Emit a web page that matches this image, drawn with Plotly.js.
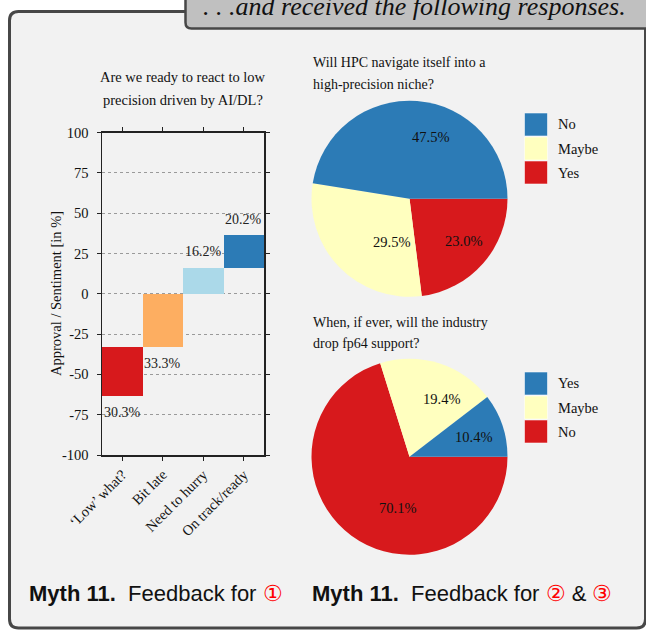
<!DOCTYPE html>
<html>
<head>
<meta charset="utf-8">
<script src="https://cdn.plot.ly/plotly-3.0.1.min.js"></script>
<style>html,body{margin:0;padding:0;background:#fff;}#chart{width:646px;height:630px;}</style>
</head>
<body>
<div id="chart"></div>
<script>
// ---- data ----
const barCategories = ["\u2018Low\u2019 what?", "Bit late", "Need to hurry", "On track/ready"];
const barShares = [30.3, 33.3, 16.2, 20.2];          // percent of responses
const barDirection = [-1, -1, 1, 1];                  // negative / positive sentiment
const barStart = [-33.3, 0, 0, 16.2];                 // where each floating bar starts
const barColors = ["#d7191c", "#fdae61", "#abd9e9", "#2c7bb6"];
const yTicks = [-100, -75, -50, -25, 0, 25, 50, 75, 100];

const pie1Labels = ["No", "Maybe", "Yes"];
const pie1Values = [47.5, 29.5, 23.0];
const pie2Labels = ["Yes", "Maybe", "No"];
const pie2Values = [10.4, 19.4, 70.1];
const pieColors = ["#2c7bb6", "#ffffbf", "#d7191c"];

const barTitle = ["Are we ready to react to low", "precision driven by AI/DL?"];
const pie1Title = ["Will HPC navigate itself into a", "high-precision niche?"];
const pie2Title = ["When, if ever, will the industry", "drop fp64 support?"];

// ---- layout helpers (positions / styles) ----
const W = 646, H = 630;
const px = x => x / W, py = y => 1 - y / H;
const SERIF = "Liberation Serif, Times New Roman, serif";
const SANS = "Liberation Sans, Arial, sans-serif";
const PIE_R = 98, PIE_CX = 409.5;
const PIE1_CY = 198.7, PIE2_CY = 456.7;
// percentage label placement inside each slice, relative to pie centre in units of radius
const pie1LabelOffsets = [[0.21, -0.63], [-0.18, 0.44], [0.55, 0.43]];
const pie2LabelOffsets = [[0.65, -0.20], [0.33, -0.59], [-0.12, 0.52]];

function roundRect(x0, y0, x1, y1, r) {
  const P = (x, y) => px(x).toFixed(5) + "," + py(y).toFixed(5);
  return "M" + P(x0 + r, y0) + " L" + P(x1 - r, y0) + " Q" + P(x1, y0) + " " + P(x1, y0 + r) +
    " L" + P(x1, y1 - r) + " Q" + P(x1, y1) + " " + P(x1 - r, y1) +
    " L" + P(x0 + r, y1) + " Q" + P(x0, y1) + " " + P(x0, y1 - r) +
    " L" + P(x0, y0 + r) + " Q" + P(x0, y0) + " " + P(x0 + r, y0) + " Z";
}

// ---- traces ----
const barEnds = barShares.map((v, i) => v * barDirection[i]);
const barTrace = {
  type: "bar",
  x: barCategories,
  y: barEnds,
  base: barStart,
  width: 1,
  marker: {color: barColors, line: {width: 0}},
  textposition: "none",
  hoverinfo: "skip",
  xaxis: "x", yaxis: "y",
  showlegend: false
};

// slices run counter-clockwise from 3 o'clock: draw them clockwise in reverse order
function pieTrace(labels, values, colors, cy) {
  return {
    type: "pie",
    labels: labels.slice().reverse(),
    values: values.slice().reverse(),
    sort: false,
    direction: "clockwise",
    rotation: 90,
    marker: {colors: colors.slice().reverse(), line: {width: 0}},
    textinfo: "none",
    domain: {x: [px(PIE_CX - PIE_R), px(PIE_CX + PIE_R)], y: [py(cy + PIE_R), py(cy - PIE_R)]},
    showlegend: false,
    hoverinfo: "skip"
  };
}
const pie1 = pieTrace(pie1Labels, pie1Values, pieColors, PIE1_CY);
const pie2 = pieTrace(pie2Labels, pie2Values, pieColors, PIE2_CY);

// ---- shapes & annotations ----
const shapes = [];
const annotations = [];
shapes.push({type: "path", xref: "paper", yref: "paper", layer: "below",
  path: roundRect(9.5, 11.5, 645.5, 628, 9), fillcolor: "#f2f2f2", line: {color: "#474747", width: 3}});
shapes.push({type: "path", xref: "paper", yref: "paper", layer: "below",
  path: roundRect(185.5, -12, 660, 28.5, 6), fillcolor: "#c0c0c0", line: {color: "#474747", width: 2.5}});

function addLegend(labels, colors, top) {
  labels.forEach((lab, i) => {
    const y0 = top + i * 24;
    shapes.push({type: "rect", xref: "paper", yref: "paper", layer: "above",
      x0: px(524.5), x1: px(547.5), y0: py(y0), y1: py(y0 + 23),
      fillcolor: colors[i], line: {color: "rgba(255,255,255,0.55)", width: 1}});
    annotations.push({xref: "paper", yref: "paper", x: px(556), y: py(y0 + 11.5),
      xanchor: "left", yanchor: "middle", showarrow: false, text: lab,
      font: {family: SERIF, size: 14.5, color: "#111"}});
  });
}
function addPieLabels(values, offsets, cy) {
  values.forEach((v, i) => {
    annotations.push({xref: "paper", yref: "paper",
      x: px(PIE_CX + offsets[i][0] * PIE_R), y: py(cy + offsets[i][1] * PIE_R),
      xanchor: "center", yanchor: "middle", showarrow: false, text: v.toFixed(1) + "%",
      font: {family: SERIF, size: 14.5, color: "#111"}});
  });
}

// bar value labels beyond each bar's end
barCategories.forEach((c, i) => {
  annotations.push({xref: "x", yref: "y", x: c, y: barStart[i] + barEnds[i],
    yshift: 16 * barDirection[i], xanchor: "center", yanchor: "middle", showarrow: false,
    text: barShares[i].toFixed(1) + "%", font: {family: SERIF, size: 14, color: "#222"}});
});

barTitle.forEach((t, i) => annotations.push({xref: "paper", yref: "paper", x: px(183), y: py(77 + i * 23),
  xanchor: "center", yanchor: "middle", showarrow: false, text: t, font: {family: SERIF, size: 14.5, color: "#111"}}));
pie1Title.forEach((t, i) => annotations.push({xref: "paper", yref: "paper", x: px(311), y: py(63 + i * 22),
  xanchor: "left", yanchor: "middle", showarrow: false, text: t, font: {family: SERIF, size: 14, color: "#111"}}));
pie2Title.forEach((t, i) => annotations.push({xref: "paper", yref: "paper", x: px(311), y: py(322 + i * 22),
  xanchor: "left", yanchor: "middle", showarrow: false, text: t, font: {family: SERIF, size: 14, color: "#111"}}));
annotations.push({xref: "paper", yref: "paper", x: px(56), y: py(294), textangle: -90,
  xanchor: "center", yanchor: "middle", showarrow: false, text: "Approval / Sentiment [in %]",
  font: {family: SERIF, size: 14.5, color: "#111"}});
annotations.push({xref: "paper", yref: "paper", x: px(628), y: py(6.5), xanchor: "right", yanchor: "middle",
  showarrow: false, text: "<i>. . .and received the following responses.</i>",
  font: {family: SERIF, size: 26, color: "#111"}});
annotations.push({xref: "paper", yref: "paper", x: px(27), y: py(593), xanchor: "left", yanchor: "middle",
  showarrow: false, text: "<b>Myth 11.</b>  Feedback for <span style=\"color:#ff0000\">\u2460</span>",
  font: {family: SANS, size: 22, color: "#111"}});
annotations.push({xref: "paper", yref: "paper", x: px(310), y: py(593), xanchor: "left", yanchor: "middle",
  showarrow: false, text: "<b>Myth 11.</b>  Feedback for <span style=\"color:#ff0000\">\u2461</span> & <span style=\"color:#ff0000\">\u2462</span>",
  font: {family: SANS, size: 22, color: "#111"}});

addLegend(pie1Labels, pieColors, 113);
addLegend(pie2Labels, pieColors, 372);
addPieLabels(pie1Values, pie1LabelOffsets, PIE1_CY);
addPieLabels(pie2Values, pie2LabelOffsets, PIE2_CY);

const layout = {
  width: W, height: H,
  margin: {l: 0, r: 0, t: 0, b: 0},
  paper_bgcolor: "#ffffff",
  plot_bgcolor: "rgba(0,0,0,0)",
  bargap: 0,
  showlegend: false,
  xaxis: {
    domain: [px(102), px(264)],
    anchor: "y",
    type: "category",
    categoryorder: "array", categoryarray: barCategories,
    range: [-0.5, 3.5],
    showline: true, linecolor: "#222", linewidth: 1.5, mirror: "ticks",
    ticks: "outside", ticklen: 4, tickcolor: "#222", tickwidth: 1,
    showgrid: false, zeroline: false,
    tickangle: -45,
    tickfont: {family: SERIF, size: 14.5, color: "#111"},
    fixedrange: true
  },
  yaxis: {
    domain: [py(455), py(132.5)],
    anchor: "x",
    range: [-100, 100],
    tickvals: yTicks,
    ticktext: yTicks.map(String),
    showline: true, linecolor: "#222", linewidth: 1.5, mirror: "ticks",
    ticks: "outside", ticklen: 4, tickcolor: "#222", tickwidth: 1,
    ticklabelstandoff: 5,
    showgrid: true, gridcolor: "#9a9a9a", gridwidth: 1, griddash: "dot",
    zeroline: false,
    tickfont: {family: SERIF, size: 14.5, color: "#111"},
    fixedrange: true
  },
  shapes: shapes,
  annotations: annotations
};

Plotly.newPlot("chart", [barTrace, pie1, pie2], layout, {staticPlot: true, displayModeBar: false});
</script>
</body>
</html>
